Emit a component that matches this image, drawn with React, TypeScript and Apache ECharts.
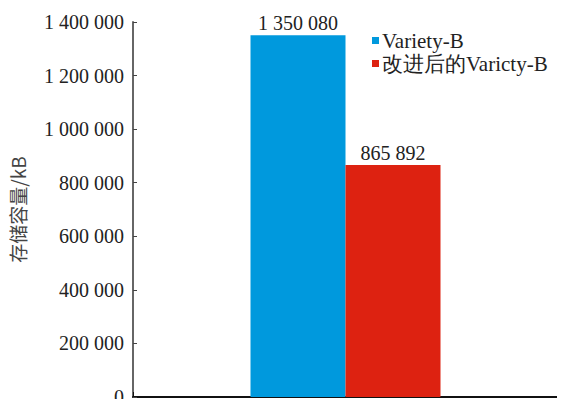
import React, { useEffect, useRef } from "react";
import * as echarts from "echarts";

const categories = [""];
const seriesNames = ["Variety-B", "改进后的Varicty-B"];
const originalValues = [1350080];
const improvedValues = [865892];
const yMax = 1400000;
const yInterval = 200000;

const fmt = (v: number) =>
  String(Math.round(v)).replace(/\B(?=(\d{3})+(?!\d))/g, " ");

export default function App() {
  const ref = useRef<HTMLDivElement>(null);

  useEffect(() => {
    if (!ref.current) return;
    const chart = echarts.init(ref.current, undefined, { renderer: "svg" });
    const font = "'Times New Roman', 'Liberation Serif', 'DejaVu Serif', serif";
    const cjk = "'Noto Sans CJK SC', sans-serif";
    chart.setOption({
      animation: false,
      textStyle: { fontFamily: font },
      grid: { left: 132, right: 7, top: 22, bottom: 4 },
      legend: {
        orient: "vertical",
        left: 367,
        top: 25,
        itemWidth: 7,
        itemHeight: 7,
        itemGap: 2,
        icon: "rect",
        textStyle: { fontFamily: font, fontSize: 21, color: "#222", padding: [0, 0, 0, -2] },
        data: seriesNames,
      },
      xAxis: {
        type: "category",
        data: categories,
        axisLine: { lineStyle: { color: "#111", width: 2 } },
        axisTick: { show: true, inside: true, length: 5, lineStyle: { color: "#111" } },
        axisLabel: { show: false },
      },
      yAxis: {
        type: "value",
        min: 0,
        max: yMax,
        interval: yInterval,
        name: "存储容量/kB",
        nameLocation: "middle",
        nameGap: 106,
        nameTextStyle: { fontFamily: cjk, fontSize: 19, color: "#444" },
        axisLine: { show: true, lineStyle: { color: "#666", width: 2 } },
        axisTick: { show: true, inside: true, length: 4, lineStyle: { color: "#444" } },
        splitLine: { show: false },
        axisLabel: {
          fontFamily: font,
          fontSize: 20,
          color: "#222",
          margin: 9,
          formatter: (v: number) => fmt(v),
        },
      },
      series: [
        {
          name: seriesNames[0],
          type: "bar",
          data: originalValues,
          barWidth: 95,
          barGap: "0%",
          itemStyle: { color: "#0099dd" },
          label: {
            show: true,
            position: "top",
            distance: 2,
            fontFamily: font,
            fontSize: 20,
            color: "#222",
            formatter: (p: any) => fmt(p.value),
          },
        },
        {
          name: seriesNames[1],
          type: "bar",
          data: improvedValues,
          barWidth: 95,
          itemStyle: { color: "#dd2211" },
          label: {
            show: true,
            position: "top",
            distance: 2,
            fontFamily: font,
            fontSize: 20,
            color: "#222",
            formatter: (p: any) => fmt(p.value),
          },
        },
      ],
    });
    return () => chart.dispose();
  }, []);

  return <div ref={ref} style={{ width: 565, height: 407, margin: -8 }} />;
}
